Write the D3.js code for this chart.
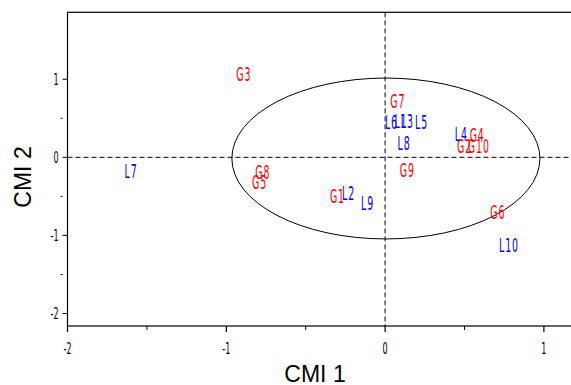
<!DOCTYPE html>
<html>
<head>
<meta charset="utf-8">
<script src="https://cdn.jsdelivr.net/npm/d3@7"></script>
<style>
  html, body { margin: 0; padding: 0; background: #fff; }
  svg { display: block; }
</style>
</head>
<body>
<div id="chart"></div>
<script>
// group G points (red) and L points (blue)
const gLabels = ["G1","G2","G3","G4","G5","G6","G7","G8","G9","G10"];
const gX = [-0.30, 0.50, -0.89, 0.58, -0.79, 0.71, 0.08, -0.77, 0.14, 0.59];
const gY = [-0.50, 0.15, 1.07, 0.28, -0.32, -0.70, 0.72, -0.19, -0.16, 0.15];

const lLabels = ["L1","L2","L3","L4","L5","L6","L7","L8","L9","L10"];
const lX = [0.10, -0.23, 0.14, 0.48, 0.23, 0.04, -1.60, 0.12, -0.11, 0.78];
const lY = [0.46, -0.46, 0.46, 0.30, 0.45, 0.45, -0.18, 0.18, -0.59, -1.12];

const xTicks = [-2, -1, 0, 1];
const xMinor = [-1.5, -0.5, 0.5];
const yTicks = [1, 0, -1, -2];
const yMinor = [0.5, -0.5, -1.5];

// confidence ellipse: centre, radii
const ellCx = 0.005, ellCy = -0.015, ellRx = 0.97, ellRy = 1.03;

const W = 571, H = 385;
const svg = d3.select("#chart").append("svg").attr("width", W).attr("height", H);

const x = d3.scaleLinear().domain([-2, 1.2]).range([67.5, 67.5 + 3.2 * 158.8]);
const y = d3.scaleLinear().domain([-2.16, 1.857]).range([326, 12.3]);

const narrow = "'DejaVu Sans', sans-serif";

// frame
svg.append("rect")
  .attr("x", x(-2)).attr("y", y(1.857))
  .attr("width", x(1.2) - x(-2)).attr("height", y(-2.16) - y(1.857))
  .attr("fill", "none").attr("stroke", "#000").attr("stroke-width", 1.2);

// reference lines
svg.append("line")
  .attr("x1", x(-2)).attr("x2", x(1.2)).attr("y1", y(0)).attr("y2", y(0))
  .attr("stroke", "#000").attr("stroke-dasharray", "5,3");
svg.append("line")
  .attr("x1", x(0)).attr("x2", x(0)).attr("y1", y(1.857)).attr("y2", y(-2.16))
  .attr("stroke", "#000").attr("stroke-dasharray", "5,3");

// ellipse
svg.append("ellipse")
  .attr("cx", x(ellCx)).attr("cy", y(ellCy))
  .attr("rx", x(ellRx) - x(0)).attr("ry", y(0) - y(ellRy))
  .attr("fill", "none").attr("stroke", "#000").attr("stroke-width", 1);

// x axis ticks
const xb = y(-2.16);
svg.selectAll(".xt").data(xTicks).join("line")
  .attr("x1", d => x(d)).attr("x2", d => x(d))
  .attr("y1", xb).attr("y2", xb + 6)
  .attr("stroke", "#000").attr("stroke-width", 1.2);
svg.selectAll(".xm").data(xMinor).join("line")
  .attr("x1", d => x(d)).attr("x2", d => x(d))
  .attr("y1", xb).attr("y2", xb + 4)
  .attr("stroke", "#000").attr("stroke-width", 1);
svg.selectAll(".xl").data(xTicks).join("text")
  .attr("transform", d => `translate(${x(d)},${xb + 28}) scale(0.5,1)`)
  .attr("text-anchor", "middle")
  .attr("font-family", narrow).attr("font-size", 16)
  .text(d => d);

// y axis ticks
const xl = x(-2);
svg.selectAll(".yt").data(yTicks).join("line")
  .attr("x1", xl - 5).attr("x2", xl)
  .attr("y1", d => y(d)).attr("y2", d => y(d))
  .attr("stroke", "#000").attr("stroke-width", 1);
svg.selectAll(".ym").data(yMinor).join("line")
  .attr("x1", xl - 7).attr("x2", xl - 5)
  .attr("y1", d => y(d)).attr("y2", d => y(d))
  .attr("stroke", "#000").attr("stroke-width", 1);
svg.selectAll(".yl").data(yTicks).join("text")
  .attr("transform", d => `translate(${xl - 9},${y(d) + 5.5}) scale(0.5,1)`)
  .attr("text-anchor", "end")
  .attr("font-family", narrow).attr("font-size", 16)
  .text(d => d);

// axis titles
svg.append("text")
  .attr("x", 315).attr("y", 382)
  .attr("text-anchor", "middle")
  .attr("font-family", "'Liberation Sans', Arial, sans-serif").attr("font-size", 23)
  .text("CMI 1");
svg.append("text")
  .attr("transform", "translate(31,177) rotate(-90)")
  .attr("text-anchor", "middle")
  .attr("font-family", "'Liberation Sans', Arial, sans-serif").attr("font-size", 23)
  .text("CMI 2");

// point labels
function drawLabels(labels, xs, ys, color) {
  svg.append("g").selectAll("text")
    .data(labels.map((t, i) => ({ t, x: xs[i], y: ys[i] })))
    .join("text")
    .attr("transform", d => `translate(${x(d.x)},${y(d.y) + 7}) scale(0.47,1)`)
    .attr("text-anchor", "middle")
    .attr("font-family", narrow).attr("font-size", 20)
    .attr("letter-spacing", 2)
    .attr("fill", color)
    .text(d => d.t);
}
drawLabels(gLabels, gX, gY, "#ff0000");
drawLabels(lLabels, lX, lY, "#0000ff");
</script>
</body>
</html>
